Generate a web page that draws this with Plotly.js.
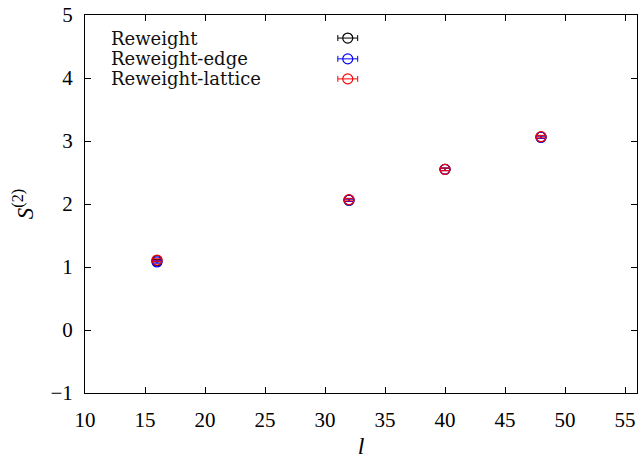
<!DOCTYPE html>
<html>
<head>
<meta charset="utf-8">
<script src="https://cdn.plot.ly/plotly-3.0.1.min.js"></script>
<style>
  html, body { margin: 0; padding: 0; background: #fff; }
  #plot { width: 639px; height: 459px; }
</style>
</head>
<body>
<div id="plot"></div>
<script>
// Second Renyi entropy S^(2) against subsystem size l for three estimators
const sizes = [16, 32, 40, 48];

const reweight        = [1.10, 2.06, 2.55, 3.06];
const reweightErr     = [0.02, 0.02, 0.02, 0.02];
const reweightEdge    = [1.08, 2.06, 2.55, 3.06];
const reweightEdgeErr = [0.02, 0.02, 0.02, 0.02];
const reweightLat     = [1.11, 2.07, 2.55, 3.07];
const reweightLatErr  = [0.02, 0.02, 0.02, 0.02];

const seriesNames  = ['Reweight', 'Reweight-edge', 'Reweight-lattice'];
const seriesColors = ['#000000', '#0000ff', '#ff0000'];
const seriesY      = [reweight, reweightEdge, reweightLat];
const seriesErr    = [reweightErr, reweightEdgeErr, reweightLatErr];

const FONT = 'Liberation Serif';
const KEY_FONT = 'DejaVu Serif';

const traces = [];
seriesNames.forEach((name, i) => {
  traces.push({
    type: 'scatter', mode: 'markers', name: name,
    x: sizes, y: seriesY[i],
    error_y: { type: 'data', array: seriesErr[i], visible: true,
               color: seriesColors[i], thickness: 1, width: 4 },
    marker: { symbol: 'circle-open', size: 10,
              color: seriesColors[i], line: { width: 1.2, color: seriesColors[i] } },
    showlegend: false, hoverinfo: 'skip'
  });
});

// Key: label on the left, sample symbol with horizontal bar on the right
const keyRows = [0.939, 0.884, 0.831];
const annotations = [];
seriesNames.forEach((name, i) => {
  traces.push({
    type: 'scatter', mode: 'markers', xaxis: 'x2', yaxis: 'y2',
    x: [0.476], y: [keyRows[i]],
    error_x: { type: 'constant', value: 0.018, visible: true,
               color: seriesColors[i], thickness: 1, width: 3 },
    marker: { symbol: 'circle-open', size: 10,
              color: seriesColors[i], line: { width: 1.2, color: seriesColors[i] } },
    showlegend: false, hoverinfo: 'skip'
  });
  annotations.push({
    xref: 'paper', yref: 'paper', x: 0.043, y: keyRows[i],
    xanchor: 'left', yanchor: 'middle', showarrow: false,
    text: name, font: { family: KEY_FONT, size: 18, color: '#111' }
  });
});

const layout = {
  width: 639, height: 459,
  margin: { l: 85, r: 2, t: 15, b: 66 },
  paper_bgcolor: '#fff', plot_bgcolor: '#fff',
  font: { family: FONT, size: 21, color: '#000' },
  showlegend: false,
  xaxis: {
    range: [10, 56], tickvals: [10, 15, 20, 25, 30, 35, 40, 45, 50, 55],
    ticks: 'inside', ticklen: 6, tickcolor: '#000', tickwidth: 1,
    ticklabelstandoff: 8,
    showline: true, linecolor: '#000', linewidth: 1, mirror: 'ticks',
    showgrid: false, zeroline: false,
    title: { text: '<i>l</i>', font: { family: FONT, size: 24 }, standoff: 20 }
  },
  yaxis: {
    range: [-1, 5], tickvals: [-1, 0, 1, 2, 3, 4, 5],
    ticktext: ['\u22121', '0', '1', '2', '3', '4', '5'],
    ticks: 'inside', ticklen: 6, tickcolor: '#000', tickwidth: 1,
    ticklabelstandoff: 7,
    showline: true, linecolor: '#000', linewidth: 1, mirror: 'ticks',
    showgrid: false, zeroline: false,
    title: { text: '<i>S</i><sup>(2)</sup>', font: { family: FONT, size: 23 }, standoff: 10 }
  },
  xaxis2: { overlaying: 'x', range: [0, 1], visible: false, fixedrange: true },
  yaxis2: { overlaying: 'y', range: [0, 1], visible: false, fixedrange: true },
  annotations: annotations
};

Plotly.newPlot('plot', traces, layout, { staticPlot: true, displayModeBar: false });
</script>
</body>
</html>
